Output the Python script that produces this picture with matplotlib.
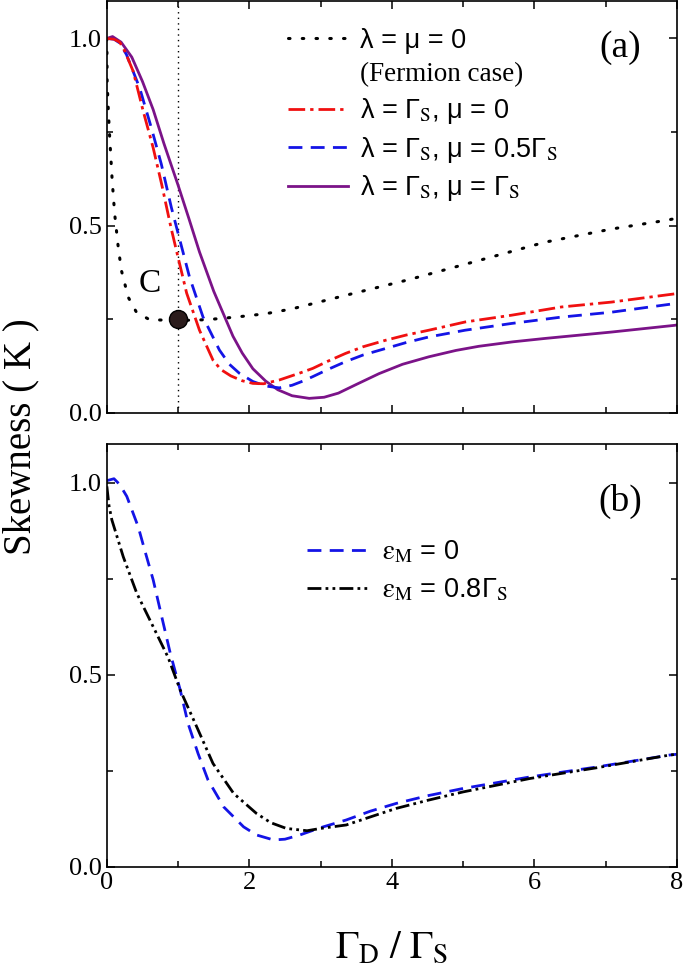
import numpy as np
from matplotlib import pyplot as plt
from matplotlib.lines import Line2D
import matplotlib.ticker

plt.rcParams['font.family'] = ['Liberation Serif', 'DejaVu Serif']
plt.rcParams['mathtext.fontset'] = 'stix'

# panel (a): lambda = mu = 0 (fermion case)
x_ferm = [0, 0.004, 0.02, 0.04, 0.075, 0.11, 0.16, 0.205, 0.30, 0.415, 0.60, 1.0, 1.4, 1.81, 2.23, 2.6, 3.35, 4.24, 5.22, 6.15, 7.08, 7.87, 8.0]
y_ferm = [1.0, 0.886, 0.81, 0.735, 0.62, 0.531, 0.442, 0.38, 0.309, 0.269, 0.249, 0.247, 0.249, 0.256, 0.265, 0.278, 0.314, 0.356, 0.407, 0.456, 0.491, 0.515, 0.52]

# lambda = Gs, mu = 0
x_red = [0, 0.1, 0.18, 0.25, 0.37, 0.51, 0.65, 0.77, 0.90, 1.0, 1.12, 1.30, 1.49, 1.6, 1.74, 1.9, 2.05, 2.2, 2.42, 2.7, 2.89, 3.1, 3.35, 3.6, 3.91, 4.2, 4.52, 5.03, 5.68, 6.38, 7.08, 7.97, 8.0]
y_red = [1.0, 0.998, 0.99, 0.967, 0.912, 0.806, 0.708, 0.61, 0.495, 0.415, 0.32, 0.221, 0.141, 0.116, 0.099, 0.086, 0.079, 0.078, 0.088, 0.106, 0.119, 0.138, 0.159, 0.177, 0.194, 0.208, 0.221, 0.243, 0.261, 0.283, 0.296, 0.318, 0.319]

# lambda = Gs, mu = 0.5 Gs
x_blue = [0, 0.1, 0.18, 0.275, 0.46, 0.625, 0.765, 0.905, 1.02, 1.16, 1.35, 1.58, 1.72, 1.86, 2.05, 2.23, 2.42, 2.6, 2.75, 2.89, 3.1, 3.35, 3.6, 3.91, 4.2, 4.52, 5.03, 5.68, 6.38, 7.08, 7.97, 8.0]
y_blue = [1.0, 0.998, 0.988, 0.957, 0.868, 0.761, 0.664, 0.549, 0.465, 0.363, 0.256, 0.168, 0.13, 0.106, 0.084, 0.072, 0.067, 0.074, 0.085, 0.097, 0.116, 0.137, 0.155, 0.172, 0.188, 0.203, 0.221, 0.239, 0.256, 0.269, 0.292, 0.293]

# lambda = Gs, mu = Gs
x_purp = [0, 0.08, 0.2, 0.35, 0.5, 0.65, 0.8, 1.0, 1.15, 1.3, 1.5, 1.77, 1.9, 2.05, 2.23, 2.4, 2.6, 2.84, 3.05, 3.25, 3.5, 3.82, 4.15, 4.52, 4.9, 5.22, 5.7, 6.15, 7.08, 7.97, 8.0]
y_purp = [1.0, 1.005, 0.99, 0.95, 0.885, 0.81, 0.72, 0.608, 0.52, 0.43, 0.325, 0.205, 0.16, 0.118, 0.085, 0.062, 0.046, 0.039, 0.042, 0.053, 0.076, 0.105, 0.13, 0.150, 0.167, 0.178, 0.19, 0.199, 0.216, 0.234, 0.235]

# panel (b): eps_M = 0
x_b0 = [0, 0.1, 0.18, 0.28, 0.44, 0.53, 0.65, 0.77, 0.89, 1.03, 1.14, 1.28, 1.42, 1.64, 1.92, 2.1, 2.34, 2.5, 2.71, 3.0, 3.36, 3.7, 4.06, 4.5, 5.0, 5.94, 6.88, 7.9, 8.0]
y_b0 = [1.005, 1.01, 0.995, 0.964, 0.885, 0.825, 0.747, 0.651, 0.556, 0.46, 0.373, 0.295, 0.226, 0.156, 0.104, 0.083, 0.07, 0.072, 0.083, 0.102, 0.122, 0.145, 0.165, 0.185, 0.204, 0.234, 0.26, 0.291, 0.293]

# eps_M = 0.8 Gs
x_b8 = [0, 0.03, 0.07, 0.23, 0.42, 0.65, 0.86, 1.03, 1.26, 1.49, 1.78, 2.1, 2.3, 2.52, 2.81, 3.0, 3.36, 3.7, 4.06, 4.5, 5.0, 5.94, 6.88, 7.9, 8.0]
y_b8 = [0.99, 0.94, 0.903, 0.807, 0.712, 0.625, 0.545, 0.46, 0.365, 0.269, 0.191, 0.139, 0.115, 0.10, 0.094, 0.1, 0.109, 0.13, 0.152, 0.173, 0.195, 0.23, 0.258, 0.291, 0.293]

lab_ferm = 'λ = μ = 0'
lab_red = 'λ = Γ$_\\mathrm{S}$, μ = 0'
lab_blue = 'λ = Γ$_\\mathrm{S}$, μ = 0.5Γ$_\\mathrm{S}$'
lab_purp = 'λ = Γ$_\\mathrm{S}$, μ = Γ$_\\mathrm{S}$'
lab_b0 = '$\\mathrm{ε}_\\mathrm{M}$ = 0'
lab_b8 = '$\\mathrm{ε}_\\mathrm{M}$ = 0.8Γ$_\\mathrm{S}$'

fig = plt.figure(figsize=(6.85, 9.74), dpi=100)
ax1 = fig.add_axes([0.156, 0.576, 0.832, 0.423])
ax2 = fig.add_axes([0.156, 0.110, 0.832, 0.434])

for ax in (ax1, ax2):
    ax.set_xlim(0, 8)
    ax.set_ylim(0, 1.1)
    ax.xaxis.set_major_locator(matplotlib.ticker.MultipleLocator(2))
    ax.xaxis.set_minor_locator(matplotlib.ticker.MultipleLocator(1))
    ax.yaxis.set_major_locator(matplotlib.ticker.MultipleLocator(0.5))
    ax.yaxis.set_minor_locator(matplotlib.ticker.MultipleLocator(0.25))
    ax.yaxis.set_major_formatter(matplotlib.ticker.FormatStrFormatter('%.1f'))
    ax.tick_params(which='both', direction='in', top=True, right=True, width=1.1, labelsize=19)
    ax.tick_params(which='major', length=6)
    ax.tick_params(which='minor', length=4)
    for s in ax.spines.values():
        s.set_linewidth(1.2)
ax1.tick_params(labelbottom=False)

# panel (a)
ax1.axvline(1.0, color='k', lw=1.0, linestyle=(0, (1, 3)))
ax1.plot(x_ferm, y_ferm, color='k', lw=2.2, linestyle=(0, (0.5, 4)), dash_capstyle='round', label=lab_ferm)
ax1.plot(x_purp, y_purp, color='#7b1388', lw=2.0, label=lab_purp)
ax1.plot(x_blue, y_blue, color='#1414e6', lw=2.0, linestyle=(0, (5, 3)), label=lab_blue)
ax1.plot(x_red, y_red, color='#f01010', lw=2.0, linestyle=(0, (6, 1.8, 1.2, 1.8)), label=lab_red)
ax1.plot([1.0], [0.25], 'o', ms=13, color='#2b1c1c', mec='k')
ax1.text(0.60, 0.345, 'C', fontsize=24, ha='center', va='center')
ax1.text(0.90, 0.886, '(a)', fontsize=27, ha='center', va='center', transform=ax1.transAxes)

h = ax1.get_legend_handles_labels()[0]
blank = Line2D([], [], color='none')
leg = ax1.legend([h[0], blank, h[3], h[2], h[1]],
                 [lab_ferm, '(Fermion case)', lab_red, lab_blue, lab_purp],
                 loc='upper left', bbox_to_anchor=(0.318, 0.935), frameon=False,
                 fontsize=19.5, handlelength=2.2, handletextpad=0.45, labelspacing=0.32,
                 borderaxespad=0, borderpad=0)
for i, t in enumerate(leg.get_texts()):
    t.set_family('Liberation Sans' if i != 1 else 'Liberation Serif')

# panel (b)
ax2.plot(x_b0, y_b0, color='#1414e6', lw=2.0, linestyle=(0, (5, 3)), label=lab_b0)
ax2.plot(x_b8, y_b8, color='k', lw=2.0, linestyle=(0, (5, 1.5, 1, 1.5, 1, 1.5)), label=lab_b8)
ax2.text(0.90, 0.865, '(b)', fontsize=27, ha='center', va='center', transform=ax2.transAxes)
leg2 = ax2.legend(loc='upper left', bbox_to_anchor=(0.352, 0.775), frameon=False,
                  fontsize=19.5, handlelength=2.2, handletextpad=0.55, labelspacing=0.4,
                  borderaxespad=0, borderpad=0)
for t in leg2.get_texts():
    t.set_family('Liberation Sans')

ax2.set_xlabel('$\\Gamma_\\mathrm{D}\\ /\\ \\Gamma_\\mathrm{S}$', fontsize=28, labelpad=26)
fig.text(0.03, 0.552, 'Skewness ( K )', rotation=90, fontsize=28, ha='center', va='center')

fig.savefig('out.png', dpi=100)
